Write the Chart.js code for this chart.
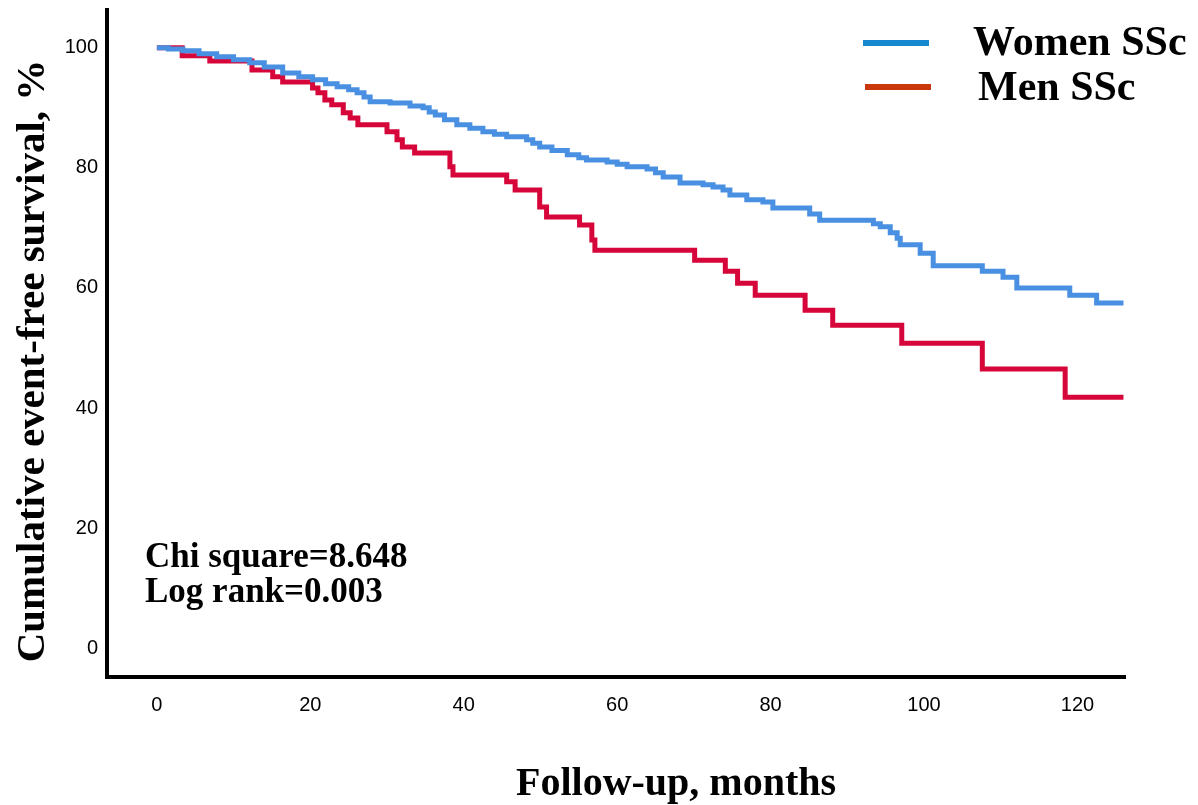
<!DOCTYPE html>
<html>
<head>
<meta charset="utf-8">
<title>Event-free survival, women vs men SSc</title>
<script src="https://cdn.jsdelivr.net/npm/chart.js@4.4.1/dist/chart.umd.min.js"></script>
<style>
  html, body { margin: 0; padding: 0; background: #fff; }
  #wrap { width: 1198px; height: 805px; }
</style>
</head>
<body>
<div id="wrap"><canvas id="km" width="1198" height="805"></canvas></div>
<script>
// Kaplan-Meier steps: month where the step starts, % event-free from there on
const womenMonths = [0, 1.5, 3.4, 5.5, 7.8, 10, 12.1, 14, 16.4, 18.5, 20.3, 22, 23.5, 25, 26.1, 27, 27.8,
  30.4, 33, 34.7, 35.5, 36.3, 37.5, 39.1, 40.8, 42.5, 44, 45.6, 48.2, 49, 49.9, 51.5, 53.5, 55, 56,
  58.7, 60, 61.3, 63.9, 65, 66, 68.2, 71.2, 72.5, 73.8, 74.7, 76.9, 79, 80.3, 85.1, 86.4, 93.4, 94.3,
  95.6, 96.5, 96.9, 99.5, 101.2, 107.6, 110.3, 112.1, 119, 122.5, 126];
const womenSurvival = [100, 99.8, 99.5, 99, 98.5, 98, 97.5, 96.8, 95.8, 95.2, 94.7, 94, 93.5, 93, 92.5, 91.8, 91,
  90.8, 90.3, 90, 89.3, 88.8, 88, 87.2, 86.6, 86, 85.6, 85.2, 84.7, 84.1, 83.5, 82.9, 82.2, 81.7, 81.3,
  81, 80.6, 80.2, 79.8, 79.2, 78.5, 77.5, 77.2, 76.8, 76.3, 75.5, 74.7, 74.3, 73.3, 72.3, 71.3, 70.7, 70.2,
  69.2, 68.3, 67.2, 65.8, 63.7, 62.8, 61.8, 60, 58.8, 57.5, 57.5];

const menMonths = [0, 3.3, 6.9, 12.4, 15.1, 16.4, 20.3, 21, 21.9, 22.8, 24.3, 25.2, 26.2, 30, 31.3, 32,
  33.6, 38.2, 38.6, 45.6, 46.7, 49.9, 50.8, 55.1, 56.7, 57.1, 70.1, 74.1, 75.7, 78, 84.5, 88.1, 97.1,
  107.6, 118.4, 126];
const menSurvival = [100, 98.7, 97.8, 96.3, 95.2, 94.3, 93.3, 92.5, 91.3, 90.5, 89.2, 88.3, 87.2, 86, 84.7, 83.5,
  82.5, 80.2, 78.8, 77.7, 76.3, 73.5, 71.8, 70.5, 68, 66.3, 64.6, 62.8, 60.8, 58.8, 56.3, 53.8, 50.8,
  46.5, 41.8, 41.8];

const xTicks = [0, 20, 40, 60, 80, 100, 120];
const yTicks = [0, 20, 40, 60, 80, 100];
const seriesNames = ['Women SSc', 'Men SSc'];
const statLines = ['Chi square=8.648', 'Log rank=0.003'];
const xTitle = 'Follow-up, months';
const yTitle = 'Cumulative event-free survival, %';

const serif = '"Liberation Serif", "Times New Roman", serif';
const tickFont = { family: '"Liberation Sans", Arial, sans-serif', size: 20 };

function toPoints(xs, ys) {
  return xs.map((x, i) => ({ x: x, y: ys[i] }));
}

// titles, legend and the test result are placed by hand like in the SPSS output
const textPlugin = {
  id: 'kmText',
  afterDraw(chart) {
    const ctx = chart.ctx;
    ctx.save();
    ctx.fillStyle = '#000';
    ctx.textBaseline = 'alphabetic';

    ctx.font = 'bold 40px ' + serif;
    ctx.textAlign = 'center';
    ctx.fillText(xTitle, 676, 795);

    ctx.save();
    ctx.translate(44, 361);
    ctx.rotate(-Math.PI / 2);
    ctx.font = 'bold 41px ' + serif;
    ctx.fillText(yTitle, 0, 0);
    ctx.restore();

    ctx.textAlign = 'left';
    ctx.font = 'bold 35px ' + serif;
    ctx.fillText(statLines[0], 145, 567);
    ctx.fillText(statLines[1], 145, 602);

    // legend
    ctx.lineWidth = 6;
    ctx.strokeStyle = '#1787cf';
    ctx.beginPath(); ctx.moveTo(863, 43); ctx.lineTo(929, 43); ctx.stroke();
    ctx.strokeStyle = '#c9380c';
    ctx.beginPath(); ctx.moveTo(865, 87); ctx.lineTo(931, 87); ctx.stroke();
    ctx.font = 'bold 42px ' + serif;
    ctx.fillText(seriesNames[0], 973, 55);
    ctx.fillText(seriesNames[1], 978, 100);
    ctx.restore();
  }
};

new Chart(document.getElementById('km'), {
  type: 'line',
  data: {
    datasets: [
      {
        label: seriesNames[0],
        data: toPoints(womenMonths, womenSurvival),
        borderColor: '#4a90e2',
        borderWidth: 5,
        stepped: true,
        pointRadius: 0,
        fill: false
      },
      {
        label: seriesNames[1],
        data: toPoints(menMonths, menSurvival),
        borderColor: '#d6063a',
        borderWidth: 5,
        stepped: true,
        pointRadius: 0,
        fill: false
      }
    ]
  },
  options: {
    responsive: false,
    animation: false,
    layout: { padding: { top: 10, right: 73, left: 0, bottom: 0 } },
    plugins: {
      legend: { display: false },
      tooltip: { enabled: false }
    },
    scales: {
      x: {
        type: 'linear',
        min: -6.5,
        max: 126.2,
        afterBuildTicks: (scale) => { scale.ticks = xTicks.map(v => ({ value: v })); },
        afterFit: (scale) => {
          scale.height = 128;
          scale.paddingLeft = 0;
          scale.paddingRight = 0;
        },
        grid: { display: false, drawTicks: false },
        border: { display: true, color: '#000', width: 4 },
        ticks: { color: '#000', font: tickFont, padding: 16, maxRotation: 0 }
      },
      y: {
        min: -4.8,
        max: 106.3,
        afterBuildTicks: (scale) => { scale.ticks = yTicks.map(v => ({ value: v })); },
        afterFit: (scale) => {
          scale.width = 107;
          scale.paddingTop = 0;
          scale.paddingBottom = 0;
        },
        grid: { display: false, drawTicks: false },
        border: { display: true, color: '#000', width: 4 },
        ticks: { color: '#000', font: tickFont, padding: 9 }
      }
    }
  },
  plugins: [textPlugin]
});
</script>
</body>
</html>
